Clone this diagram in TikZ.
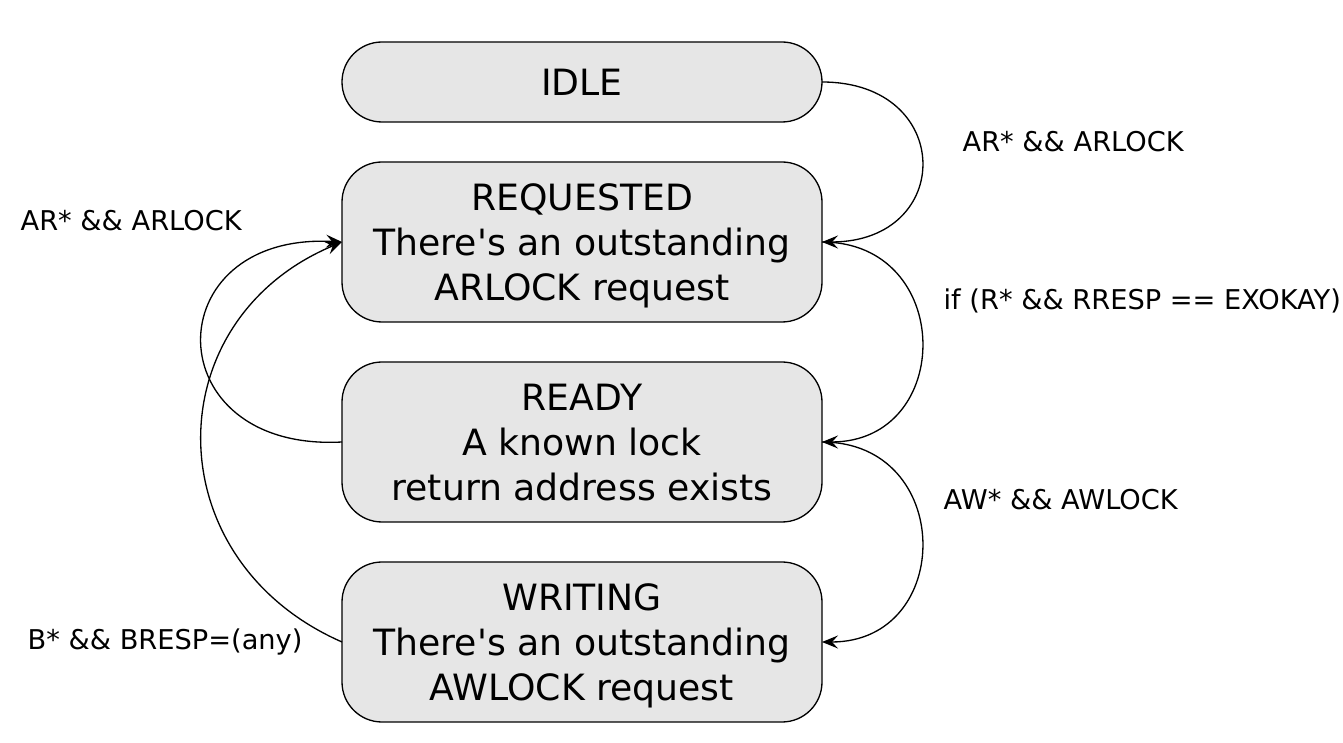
\documentclass[tikz,border=0pt]{standalone}
\usepackage{fontspec}
\setmainfont{DejaVu Sans}
\usetikzlibrary{positioning,arrows.meta}
\definecolor{statefill}{HTML}{E6E6E6}
\begin{document}
\begin{tikzpicture}[>={Stealth[length=3.2mm,width=2.6mm,inset=1.2mm]}, line width=0.75pt,
    state/.style={draw, fill=statefill, rounded corners=0.8cm, outer sep=0pt, minimum width=9.6cm, minimum height=3.2cm, text depth=0pt, align=center, font=\fontsize{20.6}{25.5}\selectfont},
    lbl/.style={anchor=base west, inner sep=0pt, font=\fontsize{15.5}{18}\selectfont}]
    \useasboundingbox (0,0) rectangle (26.86,14.86);

    % --- states ---
    \node[state, minimum height=1.6cm] (idle) at (11.64,13.22) {IDLE};
    \node[state, below=0.8cm of idle] (req) {REQUESTED\\There\textquotesingle s an outstanding\\ARLOCK request};
    \node[state, below=0.8cm of req] (ready) {READY\\A known lock\\return address exists};
    \node[state, below=0.8cm of ready] (writing) {WRITING\\There\textquotesingle s an outstanding\\AWLOCK request};

    % --- right side ---
    \draw[->] (idle.east) .. controls +(2.66,0) and +(2.66,0) .. (req.east);
    \draw[->] (req.east) .. controls +(2.66,0) and +(2.66,0) .. (ready.east);
    \draw[->] (ready.east) .. controls +(2.66,0) and +(2.66,0) .. (writing.east);
    \node[lbl] (lidle) at (19.24,11.82) {AR* \&\& ARLOCK};
    \node[lbl] (lreq) at (18.86,8.66) {if (R* \&\& RRESP == EXOKAY)};
    \node[lbl] (lready) at (18.86,4.66) {AW* \&\& AWLOCK};

    % --- left side ---
    \draw[->] (ready.west) .. controls +(-3.74,-0.2) and +(-3.74,0.2) .. (req.west);
    \draw[->] (writing.west) .. controls +(-3.74,1.64) and +(-3.74,-1.56) .. (req.west);
    \node[lbl] (lagain) at (0.4,10.24) {AR* \&\& ARLOCK};
    \node[lbl] (lwrite) at (0.54,1.86) {B* \&\& BRESP=(any)};
\end{tikzpicture}
\end{document}
